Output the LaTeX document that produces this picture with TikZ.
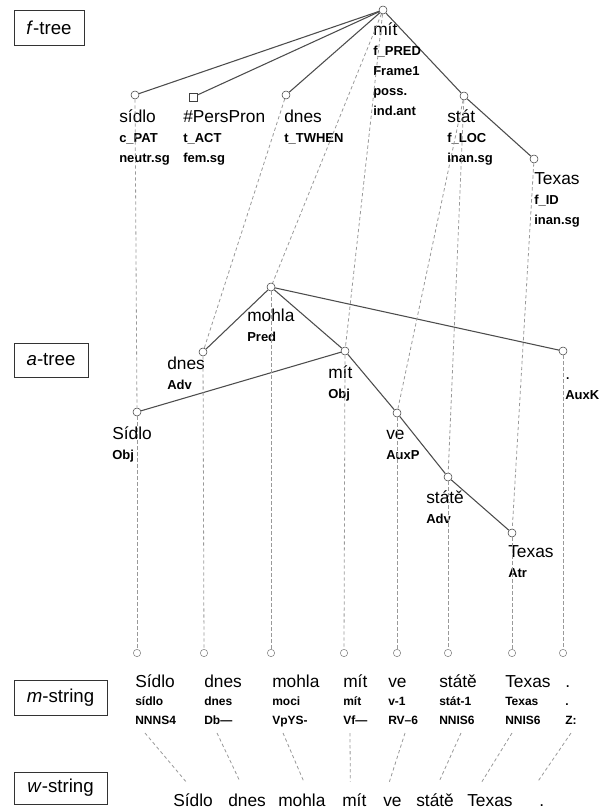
\documentclass[tikz,border=0pt]{standalone}
\usepackage{fontspec}
\setmainfont{Liberation Sans}
\usetikzlibrary{calc}
\newcommand{\wordf}{\fontsize{13}{15}\selectfont\mdseries}
\newcommand{\tagf}{\fontsize{9.75}{15}\selectfont\bfseries}
\newcommand{\mtagf}{\fontsize{9}{13.75}\selectfont\bfseries}
\tikzset{
	tnode/.style={circle, draw=black!75, fill=white, inner sep=0pt, minimum size=6pt},
	pnode/.style={rectangle, draw=black!75, fill=white, inner sep=0pt, minimum size=6pt},
	mnode/.style={circle, draw=black!50, fill=white, inner sep=0pt, minimum size=5.5pt},
	edge/.style={black!70, line width=0.8pt},
	link/.style={black!40, line width=0.6pt, dash pattern=on 2.5pt off 2pt},
	lab/.style={anchor=base west, inner sep=0pt, align=left, font=\tagf},
	mlab/.style={anchor=base west, inner sep=0pt, align=left, font=\mtagf},
	wword/.style={anchor=base west, inner xsep=0pt, inner ysep=8pt, text height=10pt, font=\wordf},
	levelbox/.style={draw=black!80, line width=0.6pt, font=\fontsize{14}{16}\selectfont, inner sep=0pt}
}
\begin{document}
\begin{tikzpicture}[x=0.75pt, y=-0.75pt]
	\useasboundingbox (0,0) rectangle (610,812);
	\node[levelbox, minimum width=52.5pt, minimum height=26.25pt] (ftreebox) at (49,27.5) {\textit{f}-tree};
	\node[levelbox, minimum width=55.5pt, minimum height=25.5pt] (atreebox) at (51,360) {\textit{a}-tree};
	\node[levelbox, minimum width=69.75pt, minimum height=26.25pt] (mstrbox) at (60.5,697.5) {\textit{m}-string};
	\node[levelbox, minimum width=69.75pt, minimum height=24pt] (wstrbox) at (60.5,788) {\textit{w}-string};

	\node[tnode] (froot) at (383,10) {};
	\node[tnode] (fsidlo) at (135,95) {};
	\node[pnode] (fpers) at (193,97) {};
	\node[tnode] (fdnes) at (286,95) {};
	\node[tnode] (fstat) at (464,96) {};
	\node[tnode] (ftexas) at (534,159) {};
	\foreach \n in {fsidlo, fpers, fdnes, fstat}
		\draw[edge] (froot) -- (\n);
	\draw[edge] (fstat) -- (ftexas);

	\node[lab] (lfsidlo) at (119,163) {{\wordf sídlo}\\c\_PAT\\neutr.sg};
	\node[lab] (lfpers) at (183,163) {{\wordf \#PersPron}\\t\_ACT\\fem.sg};
	\node[lab] (lfdnes) at (284,143) {{\wordf dnes}\\t\_TWHEN};
	\node[lab] (lfroot) at (373,116) {{\wordf mít}\\f\_PRED\\Frame1\\poss.\\ind.ant};
	\node[lab] (lfstat) at (447,163) {{\wordf stát}\\f\_LOC\\inan.sg};
	\node[lab] (lftexas) at (534,225) {{\wordf Texas}\\f\_ID\\inan.sg};

	\node[tnode] (amohla) at (271,287) {};
	\node[tnode] (adnes) at (203,352) {};
	\node[tnode] (amit) at (345,351) {};
	\node[tnode] (aauxk) at (563,351) {};
	\node[tnode] (asidlo) at (137,412) {};
	\node[tnode] (ave) at (397,413) {};
	\node[tnode] (astate) at (448,477) {};
	\node[tnode] (atexas) at (512,533) {};
	\foreach \p/\c in {amohla/adnes, amohla/amit, amohla/aauxk, amit/asidlo, amit/ave, ave/astate, astate/atexas}
		\draw[edge] (\p) -- (\c);

	\node[lab] (lamohla) at (247,341) {{\wordf mohla}\\Pred};
	\node[lab] (ladnes) at (167,389) {{\wordf dnes}\\Adv};
	\node[lab] (lamit) at (328,398) {{\wordf mít}\\Obj};
	\node[lab] (laauxk) at (565,399) {{\wordf .}\\AuxK};
	\node[lab] (lasidlo) at (112,459) {{\wordf Sídlo}\\Obj};
	\node[lab] (lave) at (386,459) {{\wordf ve}\\AuxP};
	\node[lab] (lastate) at (426,523) {{\wordf státě}\\Adv};
	\node[lab] (latexas) at (508,577) {{\wordf Texas}\\Atr};

	\foreach \f/\a in {fsidlo/asidlo, fdnes/adnes, froot/amohla, froot/amit, fstat/ave, fstat/astate, ftexas/atexas}
		\draw[link] (\f) -- (\a);

	\foreach \i/\x in {1/137, 2/204, 3/271, 4/344, 5/397, 6/448, 7/512, 8/563}
		\node[mnode] (m\i) at (\x,653) {};
	\foreach \a/\m in {asidlo/m1, adnes/m2, amohla/m3, amit/m4, ave/m5, astate/m6, atexas/m7, aauxk/m8}
		\draw[link] (\a) -- (\m);

	\node[mlab] (ml1) at (135,724) {{\wordf Sídlo}\\sídlo\\NNNS4};
	\node[mlab] (ml2) at (204,724) {{\wordf dnes}\\dnes\\Db—};
	\node[mlab] (ml3) at (272,724) {{\wordf mohla}\\moci\\VpYS-};
	\node[mlab] (ml4) at (343,724) {{\wordf mít}\\mít\\Vf—};
	\node[mlab] (ml5) at (388,724) {{\wordf ve}\\v-1\\RV–6};
	\node[mlab] (ml6) at (439,724) {{\wordf státě}\\stát-1\\NNIS6};
	\node[mlab] (ml7) at (505,724) {{\wordf Texas}\\Texas\\NNIS6};
	\node[mlab] (ml8) at (565,724) {{\wordf .}\\.\\Z:};

	\node[wword] (w1) at (173,806) {Sídlo};
	\node[wword] (w2) at (228,806) {dnes};
	\node[wword] (w3) at (278,806) {mohla};
	\node[wword] (w4) at (342,806) {mít};
	\node[wword] (w5) at (383,806) {ve};
	\node[wword] (w6) at (416,806) {státě};
	\node[wword] (w7) at (467,806) {Texas};
	\node[wword] (w8) at (539,806) {.};
	\foreach \i/\dx/\wx in {1/8/-7, 2/13/-7, 3/12/2, 4/6/-4, 5/8/-3, 6/13/4, 7/0/-8, 8/8/-4}
		\draw[link] ($(m\i)+(\dx,80)$) -- ($(w\i.north)+(\wx,0)$);
\end{tikzpicture}
\end{document}
